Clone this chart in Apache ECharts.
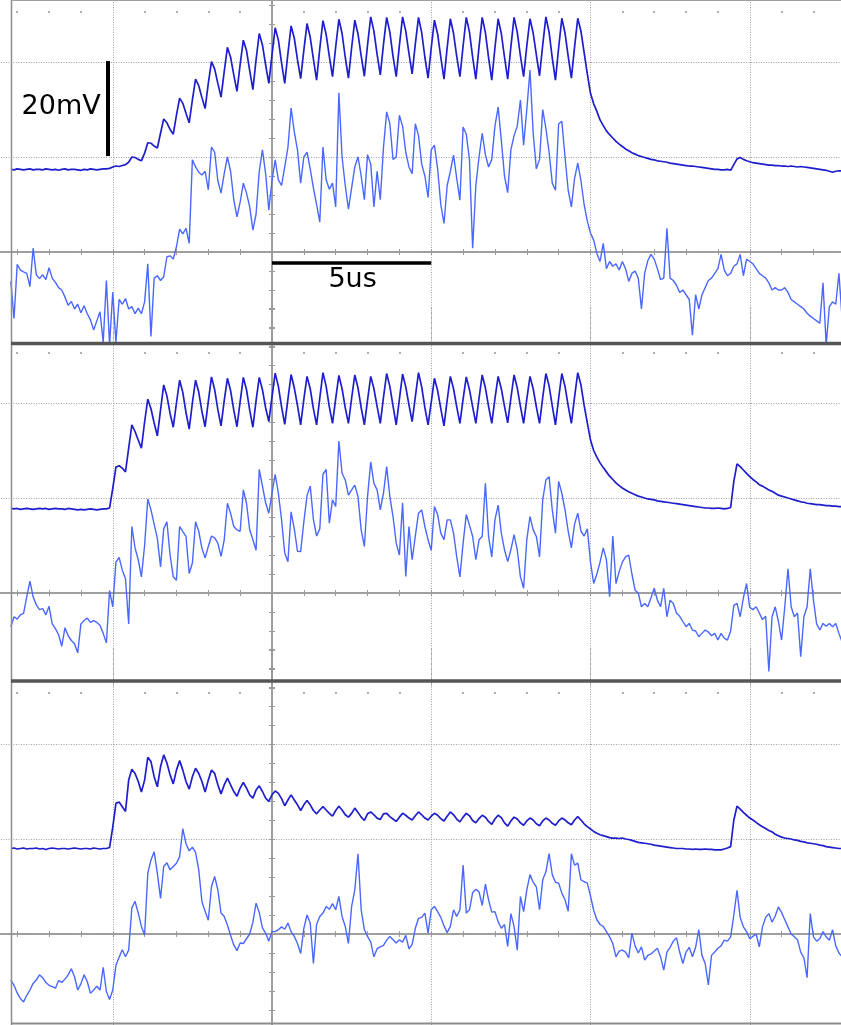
<!DOCTYPE html>
<html><head><meta charset="utf-8">
<script src="https://cdn.jsdelivr.net/npm/echarts@6/dist/echarts.min.js"></script>
<style>html,body{margin:0;padding:0;background:#fff;overflow:hidden}#c{width:841px;height:1025px}</style>
</head><body><div id="c"></div>
<script>
// sample times: t = T0 + i*DT (microseconds), values in mV
const T0 = -8.2, DT = 0.1;

const p1Top = [
17.4,17.3,17.5,17.4,17.3,17.4,17.5,17.3,17.4,17.4,
17.3,17.5,17.4,17.3,17.4,17.2,17.4,17.5,17.3,17.4,
17.4,17.3,17.2,17.4,17.3,17.5,17.4,17.3,17.4,17.5,
17.5,17.6,17.9,18.1,18.0,18.2,18.4,18.9,20.0,19.9,
19.5,19.2,20.8,23.0,22.9,22.3,21.9,25.0,28.0,27.2,
25.8,24.8,28.8,32.4,31.3,29.2,27.2,32.0,36.4,35.0,
32.5,30.2,35.5,40.1,38.5,35.5,32.6,38.0,43.1,41.0,
37.3,33.8,39.5,44.6,42.4,38.2,34.2,40.5,46.0,43.6,
39.4,35.5,41.5,47.2,44.6,39.8,35.5,41.8,47.6,45.0,
40.5,36.5,42.5,48.1,45.2,40.6,36.2,42.8,48.7,45.8,
41.2,36.9,43.2,49.0,46.0,41.0,36.6,43.0,48.8,45.9,
41.3,37.0,43.6,49.5,46.5,41.6,37.3,43.7,49.4,46.3,
41.2,36.9,43.5,49.5,46.5,41.8,37.5,43.8,49.4,46.2,
41.0,36.6,43.0,48.8,45.9,41.0,36.4,43.0,49.1,46.0,
41.2,36.9,43.4,49.4,46.3,41.0,36.4,43.2,49.4,46.2,
40.9,36.2,43.0,49.1,46.0,41.0,36.4,43.2,49.4,46.3,
41.3,36.9,43.4,49.1,46.1,41.5,37.1,43.6,49.5,46.3,
40.8,36.2,43.0,49.2,46.1,41.2,36.6,43.2,49.2,46.5,
42.0,37.5,33.4,31.2,29.6,27.8,26.6,25.5,24.7,24.0,
23.3,22.7,22.2,21.7,21.3,20.9,20.6,20.3,20.1,19.9,
19.7,19.5,19.4,19.2,19.1,19.0,18.9,18.7,18.6,18.5,
18.4,18.3,18.2,18.1,18.1,18.0,17.9,17.8,17.7,17.6,
17.5,17.4,17.4,17.3,17.3,17.4,17.2,18.4,19.6,19.9,
19.5,19.2,19.0,18.8,18.7,18.6,18.5,18.4,18.3,18.3,
18.2,18.2,18.1,18.1,18.0,18.1,18.0,17.9,18.0,17.9,
17.8,17.7,17.6,17.5,17.4,17.3,17.2,17.0,16.8,17.0,
17.1,17.1];

const p1Bot = [
-6.2,-14.0,-2.6,-3.8,-4.2,-4.5,-7.3,0.8,-4.8,-5.6,
-4.8,-5.8,-3.3,-5.5,-6.4,-7.5,-8.0,-9.5,-11.2,-10.4,
-12.0,-11.0,-12.8,-11.3,-13.0,-14.3,-16.4,-14.5,-12.6,-19.0,
-6.0,-19.5,-8.5,-19.0,-10.0,-11.0,-9.8,-12.0,-11.5,-13.0,
-11.8,-13.0,-10.5,-2.5,-17.8,-5.5,-5.0,-6.0,-5.2,-1.0,
-0.8,-1.5,1.1,4.8,3.8,5.0,1.8,19.4,17.9,16.8,
16.2,17.0,13.1,22.1,21.0,15.0,12.4,16.5,20.0,17.0,
11.0,7.4,10.5,14.5,12.4,9.5,4.6,8.0,17.0,21.5,
16.5,8.8,15.0,19.4,15.2,14.0,17.9,22.0,30.3,25.3,
21.5,14.5,20.0,21.0,17.5,13.5,10.0,6.3,22.1,15.2,
13.2,14.5,9.5,33.5,20.0,14.0,9.0,13.5,17.9,20.0,
16.0,11.0,20.5,18.5,9.5,17.0,11.0,22.0,29.5,27.0,
19.5,20.0,28.8,26.5,21.0,17.9,16.5,27.0,24.5,18.5,
16.0,11.5,21.5,22.5,17.5,10.0,6.0,14.0,17.0,20.4,
15.5,10.9,26.3,24.8,19.4,0.8,14.0,20.0,25.0,20.5,
17.9,19.5,26.5,30.5,23.5,16.0,12.5,21.5,24.5,26.5,
32.0,22.5,30.0,38.3,25.0,17.5,19.5,30.0,26.0,21.0,
14.5,13.0,27.0,27.5,20.0,13.0,9.5,15.5,18.7,15.0,
10.0,6.5,4.0,2.5,-0.3,-2.0,1.8,-3.5,-2.0,-3.0,
-2.5,-3.8,-2.0,-3.5,-6.2,-4.5,-4.0,-5.5,-12.0,-4.5,
-1.8,-0.5,-1.5,-3.5,-5.8,-5.5,5.0,-5.5,-6.0,-7.0,
-8.5,-8.0,-9.0,-10.0,-17.5,-9.0,-12.0,-9.0,-7.5,-6.0,
-5.5,-4.5,-3.5,-0.5,-3.8,-5.0,-4.5,-3.0,-2.5,-0.5,
-5.0,-1.5,-2.0,-2.5,-3.5,-4.5,-5.0,-5.5,-6.5,-8.0,
-7.5,-8.0,-8.0,-7.5,-8.5,-10.0,-10.5,-11.0,-11.5,-12.0,
-12.9,-13.5,-14.0,-14.5,-15.0,-6.5,-19.5,-11.5,-10.5,-11.0,
-4.5,-14.0];

const p2Top = [
17.8,17.7,17.8,17.6,17.7,17.8,17.7,17.6,17.7,17.8,
17.7,17.8,17.6,17.7,17.8,17.7,17.7,17.6,17.8,17.7,
17.6,17.5,17.6,17.5,17.6,17.7,17.6,17.5,17.6,17.7,
17.7,17.9,22.0,26.5,26.8,26.3,25.5,30.5,35.4,34.0,
32.2,30.5,36.0,40.8,38.8,35.8,33.1,38.5,43.8,41.5,
37.8,34.9,40.0,44.8,42.2,38.0,34.5,40.0,44.8,42.3,
38.2,35.0,40.3,45.5,42.8,38.6,35.2,40.5,45.2,42.6,
38.5,35.0,40.3,45.4,42.8,38.5,34.9,40.5,45.4,42.8,
39.0,36.1,41.3,46.3,43.5,39.2,35.5,40.8,46.0,43.2,
39.5,35.4,40.8,45.6,43.0,38.8,35.4,41.0,46.4,43.5,
39.2,35.7,40.9,45.8,43.0,39.0,35.7,41.0,45.9,43.2,
39.0,35.4,40.6,45.6,43.0,39.3,35.7,41.2,46.2,43.5,
39.4,35.4,40.8,46.1,43.4,39.6,36.1,41.3,46.4,43.4,
39.0,35.4,40.2,45.2,42.6,38.8,35.2,40.6,45.6,43.0,
39.2,35.7,40.8,45.5,42.8,39.2,35.7,41.0,45.9,43.2,
39.3,35.7,40.9,45.6,43.0,39.3,35.8,41.0,45.9,43.2,
39.3,35.7,40.8,45.6,43.0,39.2,35.7,41.2,46.2,43.6,
39.4,35.4,41.0,46.2,43.5,39.4,35.7,41.3,46.4,43.8,
39.5,35.8,32.2,30.0,28.6,27.4,26.4,25.5,24.6,23.9,
23.2,22.6,22.1,21.7,21.3,21.0,20.7,20.4,20.2,20.0,
19.8,19.7,19.6,19.4,19.3,19.2,19.1,19.0,18.9,18.8,
18.7,18.6,18.5,18.4,18.3,18.2,18.1,18.0,17.9,17.9,
17.8,17.8,17.9,17.8,17.7,17.8,18.0,23.5,27.2,26.6,
25.9,25.2,24.5,23.9,23.4,22.8,22.5,22.1,21.7,21.4,
21.0,20.6,20.4,20.2,20.0,19.8,19.6,19.4,19.2,19.1,
18.9,18.8,18.7,18.6,18.6,18.5,18.4,18.4,18.3,18.3,
18.2,18.2];

const p2Bot = [
-7.1,-5.0,-5.5,-4.6,-4.3,-0.8,2.5,-0.8,-2.5,-3.5,
-3.3,-4.6,-2.8,-6.5,-7.5,-8.8,-11.2,-7.3,-9.0,-10.0,
-10.7,-12.6,-6.5,-5.8,-5.3,-6.2,-5.8,-6.2,-6.8,-8.5,
-10.5,0.5,-2.9,6.5,7.5,4.8,3.0,-6.5,14.0,9.5,
7.0,3.4,10.0,19.8,17.5,14.5,11.5,5.5,13.5,15.0,
8.0,3.4,2.7,14.0,12.9,11.9,4.1,6.3,15.0,13.0,
9.4,7.4,9.8,12.0,11.6,10.5,7.7,11.2,18.9,16.8,
14.0,13.3,13.0,21.7,18.9,13.3,11.2,9.0,26.0,22.5,
19.0,16.8,21.0,25.0,21.0,15.4,8.4,6.6,17.1,13.5,
8.8,8.7,15.0,20.5,22.5,15.5,12.0,13.5,25.0,26.0,
14.7,19.6,18.2,32.0,25.2,23.8,20.6,21.7,22.7,20.3,
13.3,9.8,20.3,27.6,23.1,21.7,17.5,21.0,26.6,20.3,
16.1,10.5,8.0,19.0,3.5,14.0,7.0,12.0,16.8,17.5,
14.0,11.2,9.0,18.2,16.5,12.6,11.2,15.4,15.4,12.6,
7.6,3.4,10.5,16.5,14.3,11.9,7.0,11.2,11.9,23.1,
11.9,7.6,15.4,18.5,12.6,9.1,6.6,9.1,12.3,9.1,
3.4,1.0,11.2,16.1,13.3,11.9,7.6,19.6,23.8,24.5,
17.5,12.6,23.5,21.0,17.5,13.0,9.5,14.5,16.8,13.0,
12.0,13.5,6.5,2.0,4.0,6.5,9.5,7.0,-0.8,12.0,
2.0,4.5,6.5,7.6,8.0,4.0,0.6,0.0,-2.9,-2.2,
-2.9,-1.0,1.0,-1.5,-2.9,1.0,-5.0,-1.5,-2.2,-4.2,
-4.9,-6.0,-7.1,-6.4,-7.8,-8.0,-9.2,-8.5,-7.8,-8.2,
-9.0,-8.5,-9.9,-8.5,-9.5,-9.9,-8.0,-2.6,-2.2,-5.0,
-1.0,2.0,-3.0,-3.5,-2.9,-4.2,-5.6,-4.9,-16.5,-5.0,
-2.9,-6.0,-9.9,-2.9,5.1,-2.9,-5.0,-4.2,-13.4,-5.0,
-2.9,5.1,-1.5,-6.5,-7.8,-6.4,-7.0,-6.4,-7.1,-6.4,
-8.5,-10.3];

const p3Top = [
18.0,18.1,17.9,18.0,18.1,17.9,18.0,18.0,18.1,17.9,
18.0,17.8,18.0,18.1,18.0,17.9,18.0,18.0,17.9,18.0,
18.1,18.0,17.9,18.0,18.0,17.9,18.1,18.0,17.9,18.0,
18.0,18.2,22.5,27.5,27.8,26.8,25.8,32.4,34.7,33.8,
32.1,29.9,32.4,37.2,36.3,33.1,31.0,35.2,37.7,36.0,
33.5,31.6,34.5,36.5,34.5,32.1,30.5,33.1,34.9,33.8,
32.1,29.9,32.4,34.5,33.8,31.4,29.5,31.4,32.8,31.4,
30.0,29.0,30.7,31.9,30.7,29.3,28.6,30.3,31.2,30.0,
28.6,27.9,29.3,30.1,29.6,28.5,27.0,28.2,29.3,28.2,
27.2,26.0,27.2,28.1,27.2,26.0,25.3,26.1,26.8,26.1,
25.4,24.8,26.0,26.9,26.1,25.1,24.6,25.4,26.5,25.6,
24.6,23.9,25.3,25.7,25.1,24.4,24.1,25.3,25.4,24.7,
24.2,23.7,24.6,25.4,25.0,24.4,24.0,24.9,25.7,25.1,
24.4,24.0,24.8,25.4,25.0,24.3,23.8,24.8,25.7,25.1,
24.2,23.6,24.6,25.4,24.9,23.9,23.4,24.3,25.0,24.6,
23.7,23.1,24.2,25.0,24.5,23.4,22.7,23.8,24.6,24.2,
23.4,22.9,23.8,24.4,24.0,23.2,22.8,23.8,24.4,24.0,
23.3,22.9,23.8,24.4,24.0,23.4,23.0,24.0,24.7,24.0,
23.2,22.6,22.1,21.6,21.2,20.9,20.7,20.5,20.3,20.2,
20.2,20.1,20.2,20.0,19.9,19.7,19.5,19.3,19.2,19.1,
19.0,18.9,18.7,18.6,18.5,18.4,18.3,18.2,18.1,18.0,
18.0,18.0,17.9,17.9,17.8,17.9,17.8,17.8,17.9,17.8,
17.8,17.7,17.7,17.7,17.9,18.1,18.4,24.0,26.9,26.3,
25.6,25.0,24.4,24.0,23.5,23.0,22.6,22.2,21.8,21.5,
21.0,20.7,20.4,20.2,20.1,20.0,19.8,19.7,19.5,19.4,
19.2,19.1,19.0,18.9,18.7,18.6,18.4,18.3,18.2,18.1,
18.0,18.0];

const p3Bot = [
-9.7,-10.8,-12.4,-13.6,-14.3,-12.9,-11.8,-10.4,-9.7,-8.6,
-9.2,-10.2,-10.8,-11.1,-11.4,-9.8,-10.2,-9.5,-8.6,-7.3,
-9.0,-11.8,-10.5,-8.6,-10.0,-12.5,-11.8,-11.0,-11.8,-7.0,
-12.1,-13.8,-11.8,-6.6,-4.9,-3.3,-4.8,-3.4,5.5,6.9,
4.4,1.6,-0.2,12.8,15.6,17.3,12.8,7.5,14.2,15.0,
13.5,14.2,14.9,16.3,22.2,19.0,17.5,18.3,17.2,13.5,
6.8,4.8,2.9,10.0,12.1,9.3,4.4,3.7,1.9,-0.3,
-2.3,-3.5,-1.9,-2.0,-1.0,0.0,2.5,6.5,4.5,1.3,
0.2,-1.5,0.5,0.5,0.9,1.5,1.0,2.3,0.5,-0.5,
-2.0,-4.1,1.2,4.0,2.3,-6.2,2.0,3.7,4.4,5.8,
5.2,6.4,5.1,7.9,3.7,1.6,-2.0,5.8,9.3,16.9,
5.1,0.9,-0.5,-1.7,-4.8,-3.1,-2.7,-2.4,-1.3,-0.5,
-1.2,-1.9,-1.2,-1.7,-0.3,-3.1,-2.2,1.2,3.3,3.5,
4.4,0.2,5.1,5.8,4.7,3.5,1.7,0.3,1.6,5.1,
3.7,5.1,14.5,4.4,5.1,8.7,9.4,8.9,6.0,10.5,
7.2,4.6,4.7,2.6,1.2,2.0,-2.6,4.3,1.6,-3.4,
7.9,4.7,9.3,12.5,10.9,9.9,5.1,11.4,13.1,16.9,
12.5,10.9,10.7,8.6,7.2,4.8,16.9,14.5,14.9,11.4,
11.0,10.7,8.0,5.0,3.0,2.0,1.6,0.5,-0.6,-2.0,
-4.8,-3.6,-3.4,-3.8,-5.0,0.2,-2.5,-4.0,-2.7,-5.5,
-4.5,-4.2,-3.6,-3.0,-4.8,-7.6,-3.8,-2.8,-1.5,-0.8,
-3.8,-6.2,-3.8,-2.8,-4.8,-2.8,0.9,-4.5,-6.2,-10.7,
-4.5,-3.8,-3.0,-2.5,-1.3,-1.5,-0.6,4.0,9.2,3.5,
1.5,0.5,-1.0,-0.5,0.0,-2.7,1.5,3.5,4.3,2.5,
3.8,5.7,4.5,3.0,1.5,0.0,-0.6,-1.2,-3.8,-5.0,
-9.2,4.3,-0.6,-1.5,-1.0,0.5,-0.6,-1.3,0.9,-2.5,
-4.0,-4.8];

// axis ranges (time in us, voltage in mV)
const xRange = [-10, 20], xStep = 5;
const yRange = [-20, 60], yStep = 20;
// scale markers (data units)
const barV = { t: -5.15, from: 20.2, to: 40.2, label: '20mV', labelAt: [-6.62, 30.4] };
const barH = { v: -2.2, from: 0, to: 5, label: '5us', labelAt: [2.53, -6.1] };

// ---- layout (pixels) ----
const X_ZERO = 272, PX_US = 31.85, PX_MV = 4.75;
const ZERO_Y = [252, 593, 934];
const DOT_Y = [13, 354, 694];
const DARK = '#1e1ecc', LIGHT = '#4a68ff', GRAY = '#9a9a9a', DOTC = '#a0a0a0';

const pairs = arr => arr.map((v, i) => [Math.round((T0 + i * DT) * 100) / 100, v]);

const gLeft = X_ZERO + xRange[0] * PX_US;
const gWidth = (xRange[1] - xRange[0]) * PX_US;
const grids = [], xAxes = [], yAxes = [], series = [];
for (let p = 0; p < 3; p++) {
  grids.push({ left: gLeft, width: gWidth, top: ZERO_Y[p] - yRange[1] * PX_MV,
    height: (yRange[1] - yRange[0]) * PX_MV, containLabel: false, outerBoundsMode: 'none' });
}
for (let p = 0; p < 3; p++) {
  grids.push({ left: gLeft, width: gWidth, top: DOT_Y[p], height: 10, containLabel: false, outerBoundsMode: 'none' });
}
function mainX(p, pos, split) {
  return { gridIndex: p, type: 'value', min: xRange[0], max: xRange[1], interval: xStep, position: pos,
    axisLine: { show: true, onZero: true, onZeroAxisIndex: 2 * p, lineStyle: { color: GRAY, width: 1.5 } },
    axisTick: { show: true, length: 3, lineStyle: { color: GRAY, width: 1 } },
    minorTick: { show: true, splitNumber: 5, length: 3, lineStyle: { color: GRAY, width: 1 } },
    axisLabel: { show: false },
    splitLine: { show: split, showMinLine: false, showMaxLine: false, lineStyle: { color: DOTC, width: 1, type: [1, 1.5] } },
    minorSplitLine: { show: false } };
}
function mainY(p, pos, split) {
  return { gridIndex: p, type: 'value', min: yRange[0], max: yRange[1], interval: yStep, position: pos,
    axisLine: { show: true, onZero: true, onZeroAxisIndex: 2 * p, lineStyle: { color: GRAY, width: 1.5 } },
    axisTick: { show: true, length: 3, lineStyle: { color: GRAY, width: 1 } },
    minorTick: { show: true, splitNumber: 5, length: 3, lineStyle: { color: GRAY, width: 1 } },
    axisLabel: { show: false },
    splitLine: { show: split, showMinLine: false, showMaxLine: false, lineStyle: { color: DOTC, width: 1, type: [1, 1.5] } },
    minorSplitLine: { show: false } };
}
for (let p = 0; p < 3; p++) {
  xAxes.push(mainX(p, 'bottom', true), mainX(p, 'top', false));
  yAxes.push(mainY(p, 'left', true), mainY(p, 'right', false));
}
for (let p = 0; p < 3; p++) {
  xAxes.push({ gridIndex: 3 + p, type: 'value', min: xRange[0], max: xRange[1], interval: xStep, position: 'top',
    axisLine: { show: false, onZero: false }, axisTick: { show: false },
    minorTick: { show: true, splitNumber: 5, length: 2, lineStyle: { color: '#9c9c9c', width: 1.6 } },
    axisLabel: { show: false }, splitLine: { show: false } });
  yAxes.push({ gridIndex: 3 + p, type: 'value', show: false, min: 0, max: 1 });
}
const traces = [[p1Top, p1Bot], [p2Top, p2Bot], [p3Top, p3Bot]];
traces.forEach((tr, p) => {
  const top = { type: 'line', xAxisIndex: 2 * p, yAxisIndex: 2 * p, data: pairs(tr[0]), showSymbol: false, symbol: 'none',
    lineStyle: { color: DARK, width: 1.7 }, z: 4, silent: true };
  if (p === 0) {
    top.markLine = { silent: true, symbol: ['none', 'none'], label: { show: false }, animation: false,
      lineStyle: { color: '#000', type: 'solid', width: 3.5 },
      data: [
        [{ coord: [barV.t, barV.from], lineStyle: { color: '#000', width: 4 } }, { coord: [barV.t, barV.to] }],
        [{ coord: [barH.from, barH.v], lineStyle: { color: '#000', width: 3.5 } }, { coord: [barH.to, barH.v] }]
      ] };
  }
  series.push(top);
  series.push({ type: 'line', xAxisIndex: 2 * p, yAxisIndex: 2 * p, data: pairs(tr[1]), showSymbol: false, symbol: 'none',
    lineStyle: { color: LIGHT, width: 1.4 }, z: 3, silent: true });
});

const chart = echarts.init(document.getElementById('c'), null, { renderer: 'canvas' });
chart.setOption({ animation: false, backgroundColor: '#fff', grid: grids, xAxis: xAxes, yAxis: yAxes, series: series });

const a = chart.convertToPixel({ gridIndex: 0 }, barV.labelAt);
const b = chart.convertToPixel({ gridIndex: 0 }, barH.labelAt);
const font = '27px "DejaVu Sans", sans-serif';
chart.setOption({ graphic: [
  { type: 'text', z: 50, x: a[0], y: a[1] - 1, style: { text: barV.label, font: font, fill: '#000', align: 'center', verticalAlign: 'middle' } },
  { type: 'text', z: 50, x: b[0], y: b[1] - 1, style: { text: barH.label, font: font, fill: '#000', align: 'center', verticalAlign: 'middle' } },
  { type: 'line', z: 60, shape: { x1: 11.5, y1: 0, x2: 11.5, y2: 1025 }, style: { stroke: '#8c8c8c', lineWidth: 1.5 } },
  { type: 'line', z: 60, shape: { x1: 11, y1: 0.5, x2: 841, y2: 0.5 }, style: { stroke: '#a0a0a0', lineWidth: 1 } },
  { type: 'line', z: 60, shape: { x1: 11, y1: 343.5, x2: 841, y2: 343.5 }, style: { stroke: '#555', lineWidth: 3.5 } },
  { type: 'line', z: 60, shape: { x1: 11, y1: 681, x2: 841, y2: 681 }, style: { stroke: '#555', lineWidth: 3.5 } },
  { type: 'line', z: 60, shape: { x1: 11, y1: 1023.5, x2: 841, y2: 1023.5 }, style: { stroke: '#8c8c8c', lineWidth: 2 } }
] });
</script></body></html>
